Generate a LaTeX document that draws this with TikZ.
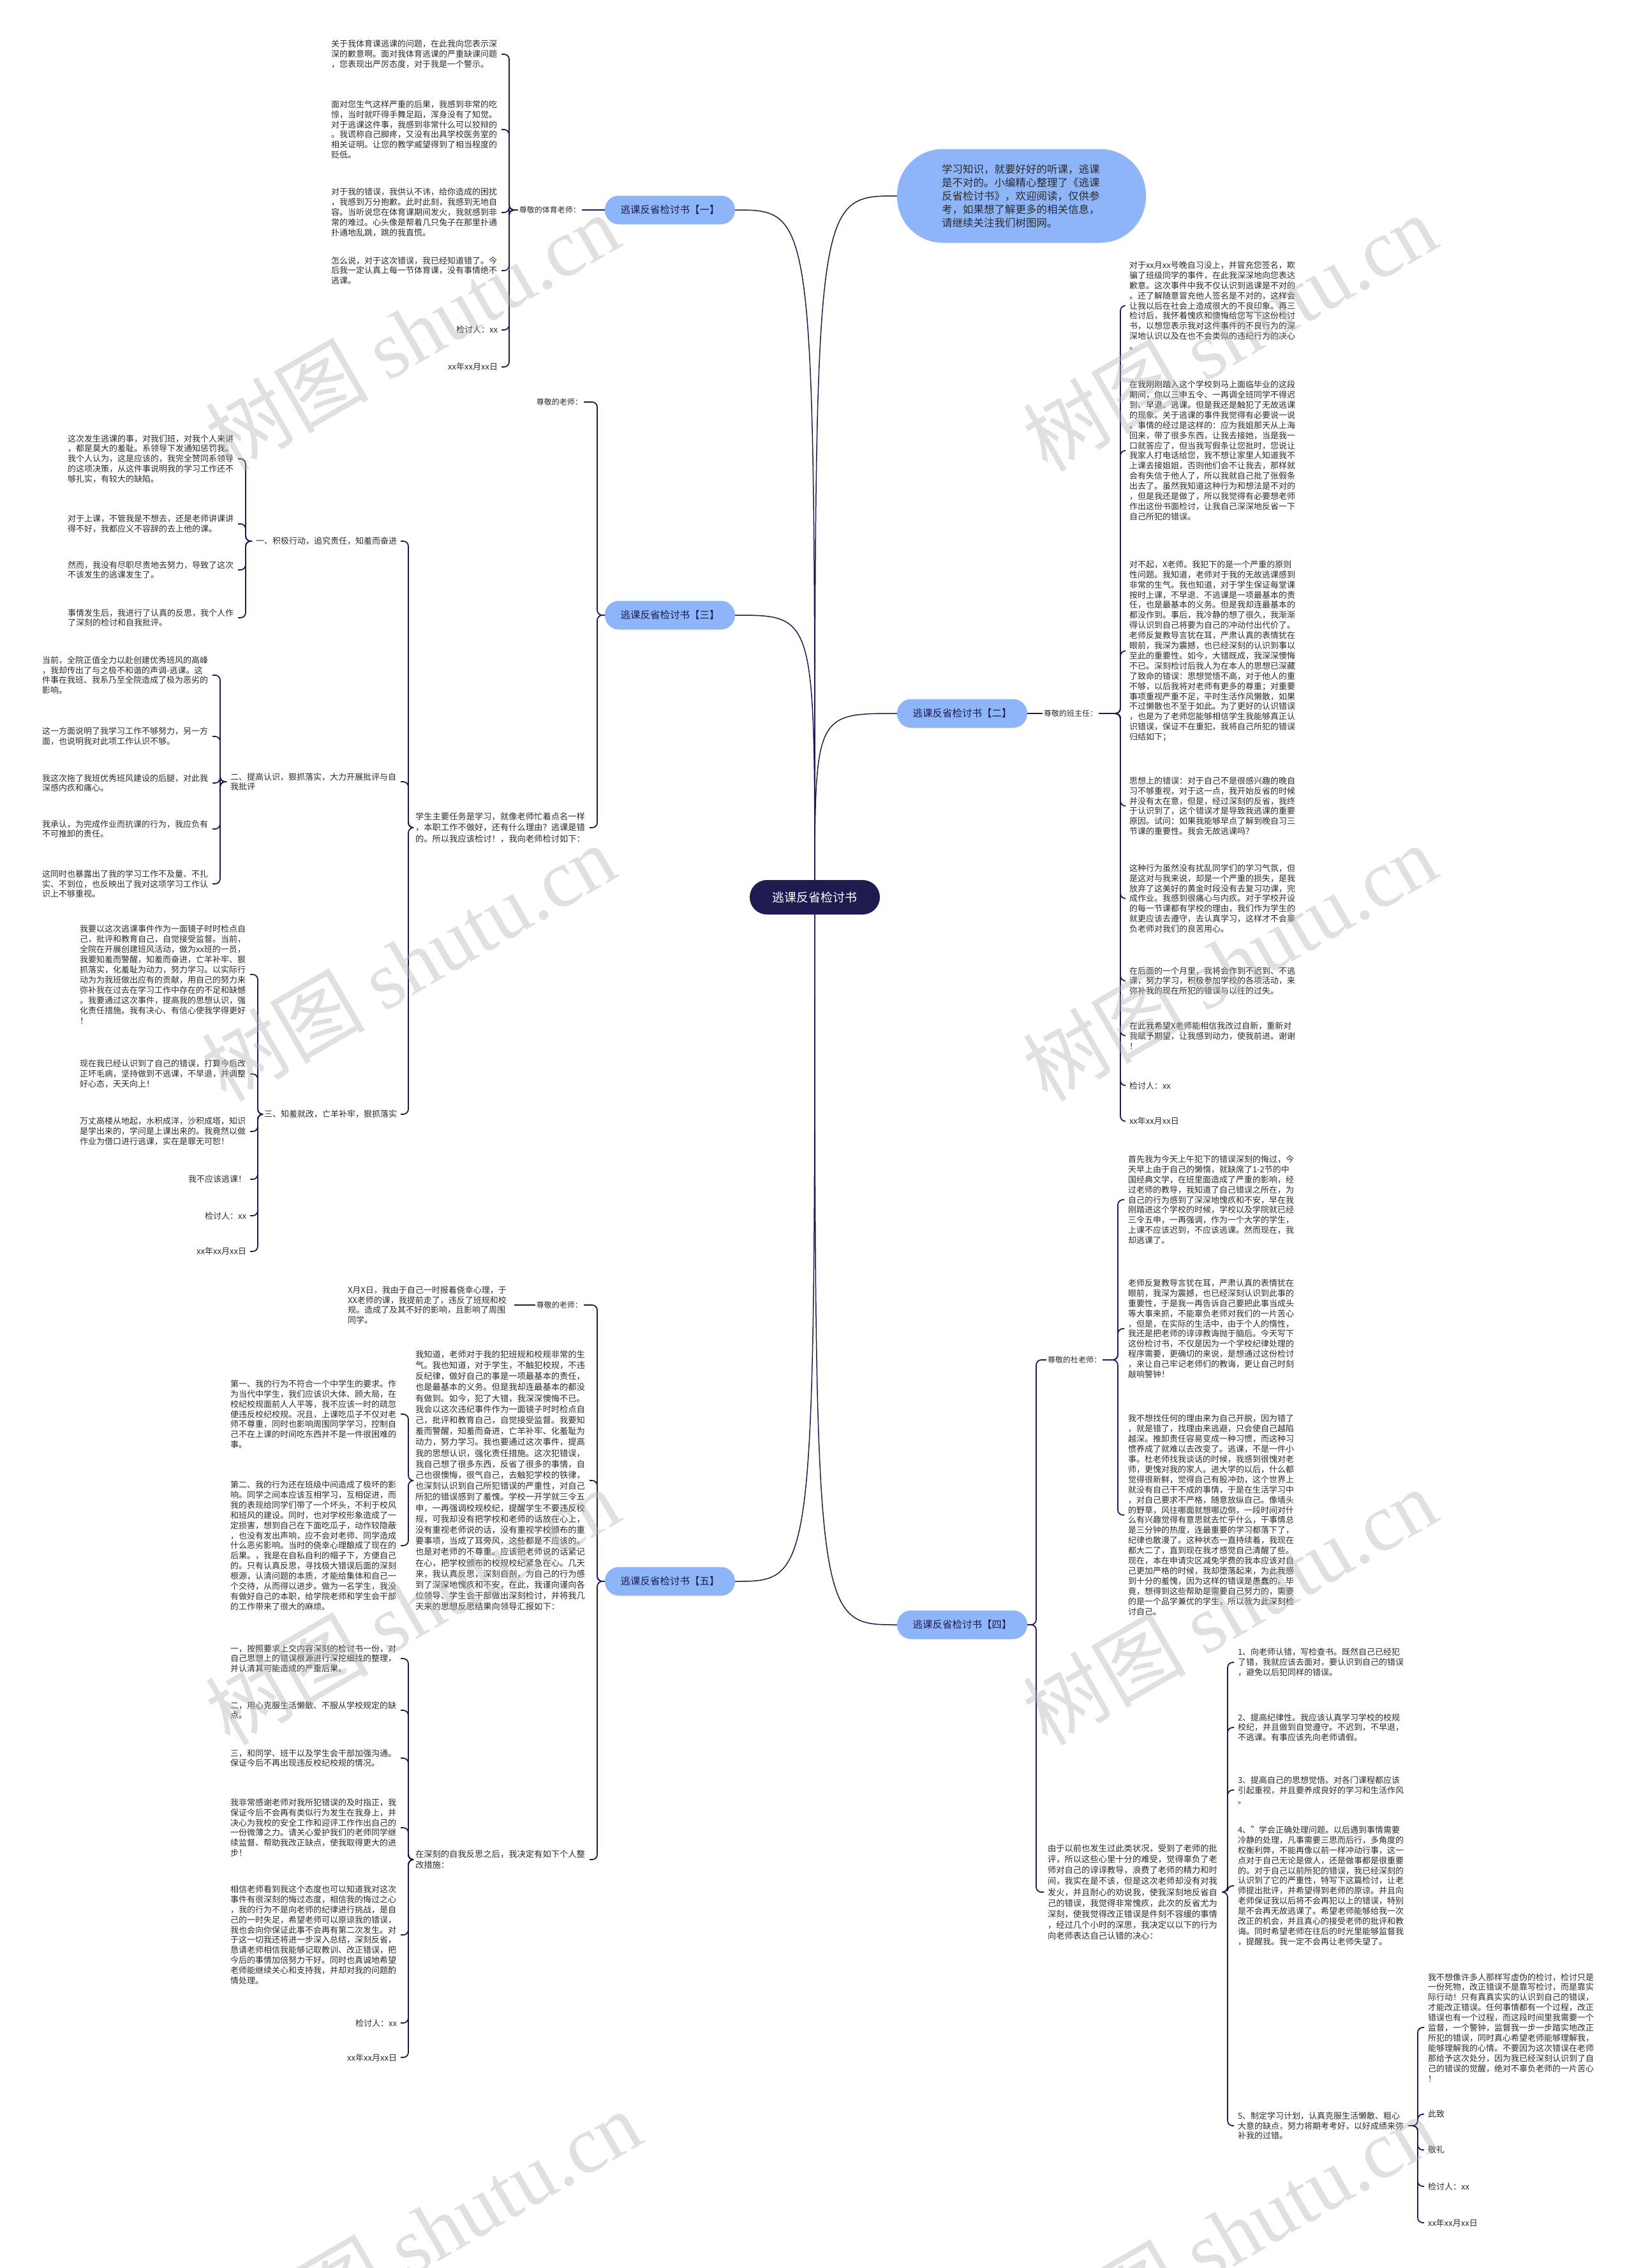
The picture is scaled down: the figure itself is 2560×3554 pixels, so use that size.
\documentclass[tikz,border=0pt]{standalone}
\usepackage{fontspec}
\setmainfont{Noto Sans CJK SC}
\newfontfamily\wmlatin{Liberation Serif}
\XeTeXinterchartokenstate=1
\newcount\cjkc
\cjkc="2E80
\loop \XeTeXcharclass\cjkc=1 \advance\cjkc by 1 \ifnum\cjkc<"A000 \repeat
\cjkc="FF00
\loop \XeTeXcharclass\cjkc=1 \advance\cjkc by 1 \ifnum\cjkc<"FFF0 \repeat
\XeTeXinterchartoks 1 1 = {\penalty0 }
\XeTeXinterchartoks 0 1 = {\penalty0 }
\XeTeXinterchartoks 1 0 = {\penalty0 }
\usetikzlibrary{backgrounds}
\definecolor{navy}{HTML}{1D1B4F}
\definecolor{topicblue}{HTML}{8DB5F7}
\definecolor{ink}{HTML}{2B2B2B}
\tikzset{
 root/.style={rounded corners=27pt,fill=navy,text=white,minimum width=204pt,minimum height=54pt,font=\fontsize{19}{22}\selectfont},
 topic/.style={rounded corners=22pt,fill=topicblue,text=navy,minimum width=204pt,minimum height=45pt,font=\fontsize{15.5}{19}\selectfont},
 intro/.style={rounded corners=72pt,fill=topicblue,text=ink,minimum width=390pt,minimum height=147pt,text width=250pt,align=left,font=\fontsize{16.5}{21}\selectfont},
 lab/.style={text=ink,inner sep=2pt,font=\fontsize{12}{14}\selectfont},
 leaf/.style={text=ink,inner sep=0pt,outer xsep=6pt,font=\fontsize{13}{15.9}\selectfont},
 para/.style={leaf,text width=261pt,align=left},
 midpara/.style={text=ink,inner sep=0pt,outer xsep=6pt,text width=267pt,align=left,font=\fontsize{13.3}{17.2}\selectfont},
 link/.style={draw=navy,line width=1.8pt,rounded corners=8pt},
 trunk/.style={draw=navy,line width=1.5pt},
 wmark/.style={text=gray!60,opacity=.4,rotate=30,font=\fontsize{128}{128}\selectfont}
}
\begin{document}
\begin{tikzpicture}[x=1pt,y=-1pt]
\path[use as bounding box] (0,0) rectangle (2560,3554);
\node[root] (root) at (1277,1406) {逃课反省检讨书};
\node[intro] (intro) at (1601,307) {学习知识，就要好好的听课，逃课是不对的。小编精心整理了《逃课反省检讨书》，欢迎阅读，仅供参考，如果想了解更多的相关信息，请继续关注我们树图网。};
\node[topic] (t1) at (1050,329) {逃课反省检讨书【一】};
\node[topic] (t2) at (1508,1118) {逃课反省检讨书【二】};
\node[topic] (t3) at (1050,964) {逃课反省检讨书【三】};
\node[topic] (t4) at (1508,2546) {逃课反省检讨书【四】};
\node[topic] (t5) at (1050,2478) {逃课反省检讨书【五】};

\node[lab,anchor=east] (t1to) at (912,329) {尊敬的体育老师：};
\coordinate (t1b) at (798,329);
\node[para,anchor=east] (t1p1) at (786,85) {关于我体育课逃课的问题，在此我向您表示深深的歉意啊。面对我体育逃课的严重缺课问题，您表现出严厉态度，对于我是一个警示。};
\node[para,anchor=east] (t1p2) at (786,203) {面对您生气这样严重的后果，我感到非常的吃惊，当时就吓得手舞足蹈，浑身没有了知觉。对于逃课这件事，我感到非常什么可以狡辩的。我谎称自己脚疼，又没有出具学校医务室的相关证明。让您的教学威望得到了相当程度的贬低。};
\node[para,anchor=east] (t1p3) at (786,333) {对于我的错误，我供认不讳，给你造成的困扰，我感到万分抱歉。此时此刻，我感到无地自容。当听说您在体育课期间发火，我就感到非常的难过。心头像是帮着几只兔子在那里扑通扑通地乱跳，跳的我直慌。};
\node[para,anchor=east] (t1p4) at (786,424) {怎么说，对于这次错误，我已经知道错了。今后我一定认真上每一节体育课，没有事情绝不逃课。};
\node[leaf,anchor=east] (t1sig) at (786,517) {检讨人：xx};
\node[leaf,anchor=east] (t1date) at (786,575) {xx年xx月xx日};

\node[lab,anchor=west] (t2to) at (1634,1118) {尊敬的班主任：};
\coordinate (t2b) at (1756,1118);
\node[para,anchor=west] (t2p1) at (1764,479) {对于xx月xx号晚自习没上，并冒充您签名，欺骗了班级同学的事件，在此我深深地向您表达歉意。这次事件中我不仅认识到逃课是不对的。还了解随意冒充他人签名是不对的，这样会让我以后在社会上造成很大的不良印象。再三检讨后，我怀着愧疚和懊悔给您写下这份检讨书，以想您表示我对这件事件的不良行为的深深地认识以及在也不会类似的违纪行为的决心。};
\node[para,anchor=west] (t2p2) at (1764,706) {在我刚刚踏入这个学校到马上面临毕业的这段期间，你以三申五令、一再调全班同学不得迟到、早退、逃课。但是我还是触犯了无故逃课的现象。关于逃课的事件我觉得有必要说一说。事情的经过是这样的：应为我姐那天从上海回来，带了很多东西，让我去接她，当是我一口就答应了，但当我写假条让您批时，您说让我家人打电话给您，我不想让家里人知道我不上课去接姐姐，否则他们会不让我去，那样就会有失信于他人了，所以我就自己批了张假条出去了。虽然我知道这种行为和想法是不对的，但是我还是做了，所以我觉得有必要想老师作出这份书面检讨，让我自己深深地反省一下自己所犯的错误。};
\node[para,anchor=west] (t2p3) at (1764,1020) {对不起，X老师。我犯下的是一个严重的原则性问题。我知道，老师对于我的无故逃课感到非常的生气。我也知道，对于学生保证每堂课按时上课，不早退、不逃课是一项最基本的责任，也是最基本的义务。但是我却连最基本的都没作到。事后，我冷静的想了很久，我渐渐得认识到自己将要为自己的冲动付出代价了。老师反复教导言犹在耳，严肃认真的表情犹在眼前，我深为震撼，也已经深刻的认识到事以至此的重要性。如今，大错既成，我深深懊悔不已。深刻检讨后我人为在本人的思想已深藏了致命的错误：思想觉悟不高，对于他人的重不够，以后我将对老师有更多的尊重；对重要事项重视严重不足，平时生活作风懒散，如果不过懒散也不至于如此。为了更好的认识错误，也是为了老师您能够相信学生我能够真正认识错误，保证不在重犯，我将自己所犯的错误归结如下；};
\node[para,anchor=west] (t2p4) at (1764,1263) {思想上的错误：对于自己不是很感兴趣的晚自习不够重视，对于这一点，我开始反省的时候并没有太在意，但是，经过深刻的反省，我终于认识到了，这个错误才是导致我逃课的重要原因。试问：如果我能够早点了解到晚自习三节课的重要性。我会无故逃课吗？};
\node[para,anchor=west] (t2p5) at (1764,1408) {这种行为虽然没有扰乱同学们的学习气氛，但是这对与我来说，却是一个严重的损失，是我放弃了这美好的黄金时段没有去复习功课，完成作业。我感到很痛心与内疚。对于学校开设的每一节课都有学校的理由，我们作为学生的就更应该去遵守，去认真学习，这样才不会辜负老师对我们的良苦用心。};
\node[para,anchor=west] (t2p6) at (1764,1537) {在后面的一个月里，我将会作到不迟到、不逃课，努力学习，积极参加学校的各项活动，来弥补我的现在所犯的错误与以往的过失。};
\node[para,anchor=west] (t2p7) at (1764,1623) {在此我希望X老师能相信我改过自新，重新对我赋予期望，让我感到动力，使我前进。谢谢！};
\node[leaf,anchor=west] (t2sig) at (1764,1701) {检讨人：xx};
\node[leaf,anchor=west] (t2date) at (1764,1757) {xx年xx月xx日};

\coordinate (t3b) at (936,964);
\node[lab,anchor=east] (t3to) at (915,630) {尊敬的老师：};
\node[midpara,anchor=east] (t3lead) at (924,1297) {学生主要任务是学习，就像老师忙着点名一样，本职工作不做好，还有什么理由？逃课是错的。所以我应该检讨！，我向老师检讨如下：};
\coordinate (t3leadb) at (640,1297);
\node[leaf,anchor=east] (s1) at (628,848) {一、积极行动，追究责任，知羞而奋进};
\node[para,anchor=east] (s2) at (628,1225) {二、提高认识，狠抓落实，大力开展批评与自我批评};
\node[leaf,anchor=east] (s3) at (628,1746) {三、知羞就改，亡羊补牢，狠抓落实};
\coordinate (s1b) at (385,848);
\node[para,anchor=east] (s1p1) at (373,719) {这次发生逃课的事，对我们班，对我个人来讲，都是莫大的羞耻。系领导下发通知惩罚我。我个人认为，这是应该的，我完全赞同系领导的这项决策，从这件事说明我的学习工作还不够扎实，有较大的缺陷。};
\node[para,anchor=east] (s1p2) at (373,821) {对于上课，不管我是不想去，还是老师讲课讲得不好，我都应义不容辞的去上他的课。};
\node[para,anchor=east] (s1p3) at (373,893) {然而，我没有尽职尽责地去努力，导致了这次不该发生的逃课发生了。};
\node[para,anchor=east] (s1p4) at (373,968) {事情发生后，我进行了认真的反思，我个人作了深刻的检讨和自我批评。};
\coordinate (s2b) at (345,1225);
\node[para,anchor=east] (s2p1) at (333,1058) {当前，全院正值全力以赴创建优秀班风的高峰，我却传出了与之极不和谐的声调-逃课。这件事在我班、我系乃至全院造成了极为恶劣的影响。};
\node[para,anchor=east] (s2p2) at (333,1154) {这一方面说明了我学习工作不够努力，另一方面，也说明我对此项工作认识不够。};
\node[para,anchor=east] (s2p3) at (333,1227) {我这次拖了我班优秀班风建设的后腿，对此我深感内疚和痛心。};
\node[para,anchor=east] (s2p4) at (333,1299) {我承认，为完成作业而抗课的行为，我应负有不可推卸的责任。};
\node[para,anchor=east] (s2p5) at (333,1385) {这同时也暴露出了我的学习工作不及量、不扎实、不到位，也反映出了我对这项学习工作认识上不够重视。};
\coordinate (s3b) at (404,1746);
\node[para,anchor=east] (s3p1) at (392,1527) {我要以这次逃课事件作为一面镜子时时检点自己，批评和教育自己，自觉接受监督。当前，全院在开展创建班风活动，做为xx班的一员，我要知羞而警醒，知羞而奋进，亡羊补牢、狠抓落实，化羞耻为动力，努力学习。以实际行动为为我班做出应有的贡献，用自己的努力来弥补我在过去在学习工作中存在的不足和缺憾。我要通过这次事件，提高我的思想认识，强化责任措施。我有决心、有信心使我学得更好！};
\node[para,anchor=east] (s3p2) at (392,1683) {现在我已经认识到了自己的错误，打算今后改正坏毛病，坚持做到不逃课，不早退，并调整好心态，天天向上！};
\node[para,anchor=east] (s3p3) at (392,1773) {万丈高楼从地起，水积成洋，沙积成塔，知识是学出来的，学问是上课出来的。我竟然以做作业为借口进行逃课，实在是罪无可恕！};
\node[leaf,anchor=east] (s3end) at (392,1848) {我不应该逃课！};
\node[leaf,anchor=east] (s3sig) at (392,1905) {检讨人：xx};
\node[leaf,anchor=east] (s3date) at (392,1961) {xx年xx月xx日};

\coordinate (t5b) at (936,2478);
\node[lab,anchor=east] (t5to) at (915,2045) {尊敬的老师：};
\node[leaf,text width=255pt,align=left,anchor=east] (t5note) at (806,2045) {X月X日，我由于自己一时报着侥幸心理，于XX老师的课，我提前走了，违反了班规和校规。造成了及其不好的影响，且影响了周围同学。};
\node[midpara,anchor=east] (t5know) at (924,2320) {我知道，老师对于我的犯班规和校规非常的生气。我也知道，对于学生，不触犯校规，不违反纪律，做好自己的事是一项最基本的责任，也是最基本的义务。但是我却连最基本的都没有做到。如今，犯了大错，我深深懊悔不已。我会以这次违纪事件作为一面镜子时时检点自己，批评和教育自己，自觉接受监督。我要知羞而警醒，知羞而奋进，亡羊补牢、化羞耻为动力，努力学习。我也要通过这次事件，提高我的思想认识，强化责任措施。这次犯错误，我自己想了很多东西，反省了很多的事情，自己也很懊悔，很气自己，去触犯学校的铁律，也深刻认识到自己所犯错误的严重性，对自己所犯的错误感到了羞愧。学校一开学就三令五申，一再强调校规校纪，提醒学生不要违反校规，可我却没有把学校和老师的话放在心上，没有重视老师说的话，没有重视学校颁布的重要事项，当成了耳旁风，这些都是不应该的。也是对老师的不尊重。应该把老师说的话紧记在心，把学校颁布的校规校纪紧急在心。几天来，我认真反思，深刻自剖，为自己的行为感到了深深地愧疚和不安，在此，我谨向谨向各位领导、学生会干部做出深刻检讨，并将我几天来的思想反思结果向领导汇报如下：};
\coordinate (t5knowb) at (640,2320);
\node[para,anchor=east] (t5k1) at (628,2216) {第一、我的行为不符合一个中学生的要求。作为当代中学生，我们应该识大体、顾大局，在校纪校规面前人人平等，我不应该一时的疏忽便违反校纪校规。况且，上课吃瓜子不仅对老师不尊重，同时也影响周围同学学习，控制自己不在上课的时间吃东西并不是一件很困难的事。};
\node[para,anchor=east] (t5k2) at (628,2422) {第二、我的行为还在班级中间造成了极坏的影响。同学之间本应该互相学习，互相促进，而我的表现给同学们带了一个坏头，不利于校风和班风的建设。同时，也对学校形象造成了一定损害，想到自己在下面吃瓜子，动作较隐蔽，也没有发出声响，应不会对老师、同学造成什么恶劣影响。当时的侥幸心理酿成了现在的后果。，我是在自私自利的帽子下，方便自己的。只有认真反思，寻找极大错误后面的深刻根源，认清问题的本质，才能给集体和自己一个交待，从而得以进步。做为一名学生，我没有做好自己的本职，给学院老师和学生会干部的工作带来了很大的麻烦。};
\node[midpara,anchor=east] (t5plan) at (924,2914) {在深刻的自我反思之后，我决定有如下个人整改措施：};
\coordinate (t5planb) at (640,2914);
\node[para,anchor=east] (t5q1) at (628,2599) {一，按照要求上交内容深刻的检讨书一份，对自己思想上的错误根源进行深挖细找的整理，并认清其可能造成的严重后果。};
\node[para,anchor=east] (t5q2) at (628,2680) {二，用心克服生活懒散、不服从学校规定的缺点。};
\node[para,anchor=east] (t5q3) at (628,2755) {三，和同学、班干以及学生会干部加强沟通。保证今后不再出现违反校纪校规的情况。};
\node[para,anchor=east] (t5q4) at (628,2864) {我非常感谢老师对我所犯错误的及时指正，我保证今后不会再有类似行为发生在我身上，并决心为我校的安全工作和迎评工作作出自己的一份微薄之力。请关心爱护我们的老师同学继续监督、帮助我改正缺点，使我取得更大的进步！};
\node[para,anchor=east] (t5q5) at (628,3032) {相信老师看到我这个态度也可以知道我对这次事件有很深刻的悔过态度，相信我的悔过之心，我的行为不是向老师的纪律进行挑战，是自己的一时失足，希望老师可以原谅我的错误，我也会向你保证此事不会再有第二次发生。对于这一切我还将进一步深入总结，深刻反省，恳请老师相信我能够记取教训、改正错误，把今后的事情加倍努力干好。同时也真诚地希望老师能继续关心和支持我，并却对我的问题酌情处理。};
\node[leaf,anchor=east] (t5sig) at (628,3170) {检讨人：xx};
\node[leaf,anchor=east] (t5date) at (628,3224) {xx年xx月xx日};

\coordinate (t4b) at (1624,2546);
\node[lab,anchor=west] (t4to) at (1640,2131) {尊敬的杜老师：};
\coordinate (t4tob) at (1752,2131);
\node[para,anchor=west] (t4p1) at (1762,1880) {首先我为今天上午犯下的错误深刻的悔过，今天早上由于自己的懒惰，就缺席了1-2节的中国经典文学，在班里面造成了严重的影响，经过老师的教导，我知道了自己错误之所在，为自己的行为感到了深深地愧疚和不安，早在我刚踏进这个学校的时候，学校以及学院就已经三令五申，一再强调，作为一个大学的学生，上课不应该迟到，不应该逃课。然而现在，我却逃课了。};
\node[para,anchor=west] (t4p2) at (1762,2082) {老师反复教导言犹在耳，严肃认真的表情犹在眼前，我深为震撼，也已经深刻认识到此事的重要性，于是我一再告诉自己要把此事当成头等大事来抓，不能辜负老师对我们的一片苦心，但是，在实际的生活中，由于个人的惰性，我还是把老师的谆谆教诲抛于脑后。今天写下这份检讨书，不仅是因为一个学校纪律处理的程序需要，更确切的来说，是想通过这份检讨，来让自己牢记老师们的教诲，更让自己时刻敲响警钟！};
\node[para,anchor=west] (t4p3) at (1762,2374) {我不想找任何的理由来为自己开脱，因为错了，就是错了，找理由来逃避，只会使自己越陷越深。推卸责任容易变成一种习惯，而这种习惯养成了就难以去改变了。逃课，不是一件小事。杜老师找我谈话的时候，我感到很愧对老师，更愧对我的家人。进大学的以后，什么都觉得很新鲜，觉得自己有股冲劲，这个世界上就没有自己干不成的事情，于是在生活学习中，对自己要求不严格，随意放纵自己。像墙头的野草，风往哪面就想哪边倒，一段时间对什么有兴趣觉得有意思就去忙乎什么，干事情总是三分钟的热度，连最重要的学习都落下了，纪律也散漫了。这种状态一直持续着，我现在都大二了，直到现在我才感觉自己清醒了些。现在，本在申请灾区减免学费的我本应该对自己更加严格的时候，我却堕落起来，为此我感到十分的羞愧，因为这样的错误是愚蠢的。毕竟，想得到这些帮助是需要自己努力的，需要的是一个品学兼优的学生，所以我为此深刻检讨自己。};
\node[midpara,anchor=west] (t4lead) at (1636,2965) {由于以前也发生过此类状况，受到了老师的批评，所以这些心里十分的难受，觉得辜负了老师对自己的谆谆教导，浪费了老师的精力和时间，我实在是不该，但是这次老师却没有对我发火，并且耐心的劝说我，使我深刻地反省自己的错误，我觉得非常愧疚，此次的反省尤为深刻，使我觉得改正错误是件刻不容缓的事情，经过几个小时的深思，我决定以以下的行为向老师表达自己认错的决心：};
\coordinate (t4leadb) at (1924,2965);
\node[para,anchor=west] (t4m1) at (1934,2605) {1、向老师认错，写检查书。既然自己已经犯了错，我就应该去面对，要认识到自己的错误，避免以后犯同样的错误。};
\node[para,anchor=west] (t4m2) at (1934,2707) {2、提高纪律性。我应该认真学习学校的校规校纪，并且做到自觉遵守。不迟到，不早退，不逃课。有事应该先向老师请假。};
\node[para,anchor=west] (t4m3) at (1934,2805) {3、提高自己的思想觉悟。对各门课程都应该引起重视，并且要养成良好的学习和生活作风。};
\node[para,anchor=west] (t4m4) at (1934,2955) {4、"学会正确处理问题。以后遇到事情需要冷静的处理，凡事需要三思而后行，多角度的权衡利弊，不能再像以前一样冲动行事，这一点对于自己无论是做人，还是做事都是很重要的。对于自己以前所犯的错误，我已经深刻的认识到了它的严重性，特写下这篇检讨，让老师提出批评，并希望得到老师的原谅。并且向老师保证我以后将不会再犯以上的错误，特别是不会再无故逃课了。希望老师能够给我一次改正的机会，并且真心的接受老师的批评和教诲。同时希望老师在往后的时光里能够监督我，提醒我。我一定不会再让老师失望了。};
\node[para,anchor=west] (t4m5) at (1934,3331) {5、制定学习计划，认真克服生活懒散、粗心大意的缺点，努力将期考考好，以好成绩来弥补我的过错。};
\coordinate (t4m5b) at (2222,3331);
\node[para,anchor=west] (t4r1) at (2232,3177) {我不想像许多人那样写虚伪的检讨，检讨只是一份死物，改正错误不是靠写检讨，而是靠实际行动！只有真真实实的认识到自己的错误，才能改正错误。任何事情都有一个过程，改正错误也有一个过程，而这段时间里我需要一个监督，一个警钟，监督我一步一步踏实地改正所犯的错误，同时真心希望老师能够理解我，能够理解我的心情。不要因为这次错误在老师那给予这次处分，因为我已经深刻认识到了自己的错误的觉醒，绝对不辜负老师的一片苦心！};
\node[leaf,anchor=west] (t4r2) at (2232,3313) {此致};
\node[leaf,anchor=west] (t4r3) at (2232,3369) {敬礼};
\node[leaf,anchor=west] (t4sig) at (2232,3426) {检讨人：xx};
\node[leaf,anchor=west] (t4date) at (2232,3483) {xx年xx月xx日};

\begin{scope}[on background layer]
\fill[white] (0,0) rectangle (2560,3554);
\foreach \t in {t1,t3,t5} \draw[trunk] (root.center) .. controls (root.center |- \t.east) .. (\t.east);
\foreach \t in {intro,t2,t4} \draw[trunk] (root.center) .. controls (root.center |- \t.west) .. (\t.west);
\draw[link] (t1.west) -- (t1to.east);
\foreach \c in {t1p1,t1p2,t1p3,t1p4,t1sig,t1date} \draw[link] (t1to.west) -- (t1b) |- (\c.east);
\draw[link] (t2.east) -- (t2to.west);
\foreach \c in {t2p1,t2p2,t2p3,t2p4,t2p5,t2p6,t2p7,t2sig,t2date} \draw[link] (t2to.east) -- (t2b) |- (\c.west);
\foreach \c in {t3to,t3lead} \draw[link] (t3.west) -- (t3b) |- (\c.east);
\foreach \c in {s1,s2,s3} \draw[link] (t3lead.west) -- (t3leadb) |- (\c.east);
\foreach \c in {s1p1,s1p2,s1p3,s1p4} \draw[link] (s1.west) -- (s1b) |- (\c.east);
\foreach \c in {s2p1,s2p2,s2p3,s2p4,s2p5} \draw[link] (s2.west) -- (s2b) |- (\c.east);
\foreach \c in {s3p1,s3p2,s3p3,s3end,s3sig,s3date} \draw[link] (s3.west) -- (s3b) |- (\c.east);
\foreach \c in {t5to,t5know,t5plan} \draw[link] (t5.west) -- (t5b) |- (\c.east);
\draw[link] (t5to.west) -- (t5note.east);
\foreach \c in {t5k1,t5k2} \draw[link] (t5know.west) -- (t5knowb) |- (\c.east);
\foreach \c in {t5q1,t5q2,t5q3,t5q4,t5q5,t5sig,t5date} \draw[link] (t5plan.west) -- (t5planb) |- (\c.east);
\foreach \c in {t4to,t4lead} \draw[link] (t4.east) -- (t4b) |- (\c.west);
\foreach \c in {t4p1,t4p2,t4p3} \draw[link] (t4to.east) -- (t4tob) |- (\c.west);
\foreach \c in {t4m1,t4m2,t4m3,t4m4,t4m5} \draw[link] (t4lead.east) -- (t4leadb) |- (\c.west);
\foreach \c in {t4r1,t4r2,t4r3,t4sig,t4date} \draw[link] (t4m5.east) -- (t4m5b) |- (\c.west);
\end{scope}

\node[wmark] (wm1) at (646,520) {树图 {\wmlatin shutu.cn}};
\node[wmark] (wm2) at (1927,521) {树图 {\wmlatin shutu.cn}};
\node[wmark] (wm3) at (640,1508) {树图 {\wmlatin shutu.cn}};
\node[wmark] (wm4) at (1927,1508) {树图 {\wmlatin shutu.cn}};
\node[wmark] (wm5) at (646,2517) {树图 {\wmlatin shutu.cn}};
\node[wmark] (wm6) at (1927,2517) {树图 {\wmlatin shutu.cn}};
\node[wmark] (wm7) at (680,3492) {树图 {\wmlatin shutu.cn}};
\node[wmark] (wm8) at (1927,3500) {树图 {\wmlatin shutu.cn}};
\end{tikzpicture}
\end{document}
